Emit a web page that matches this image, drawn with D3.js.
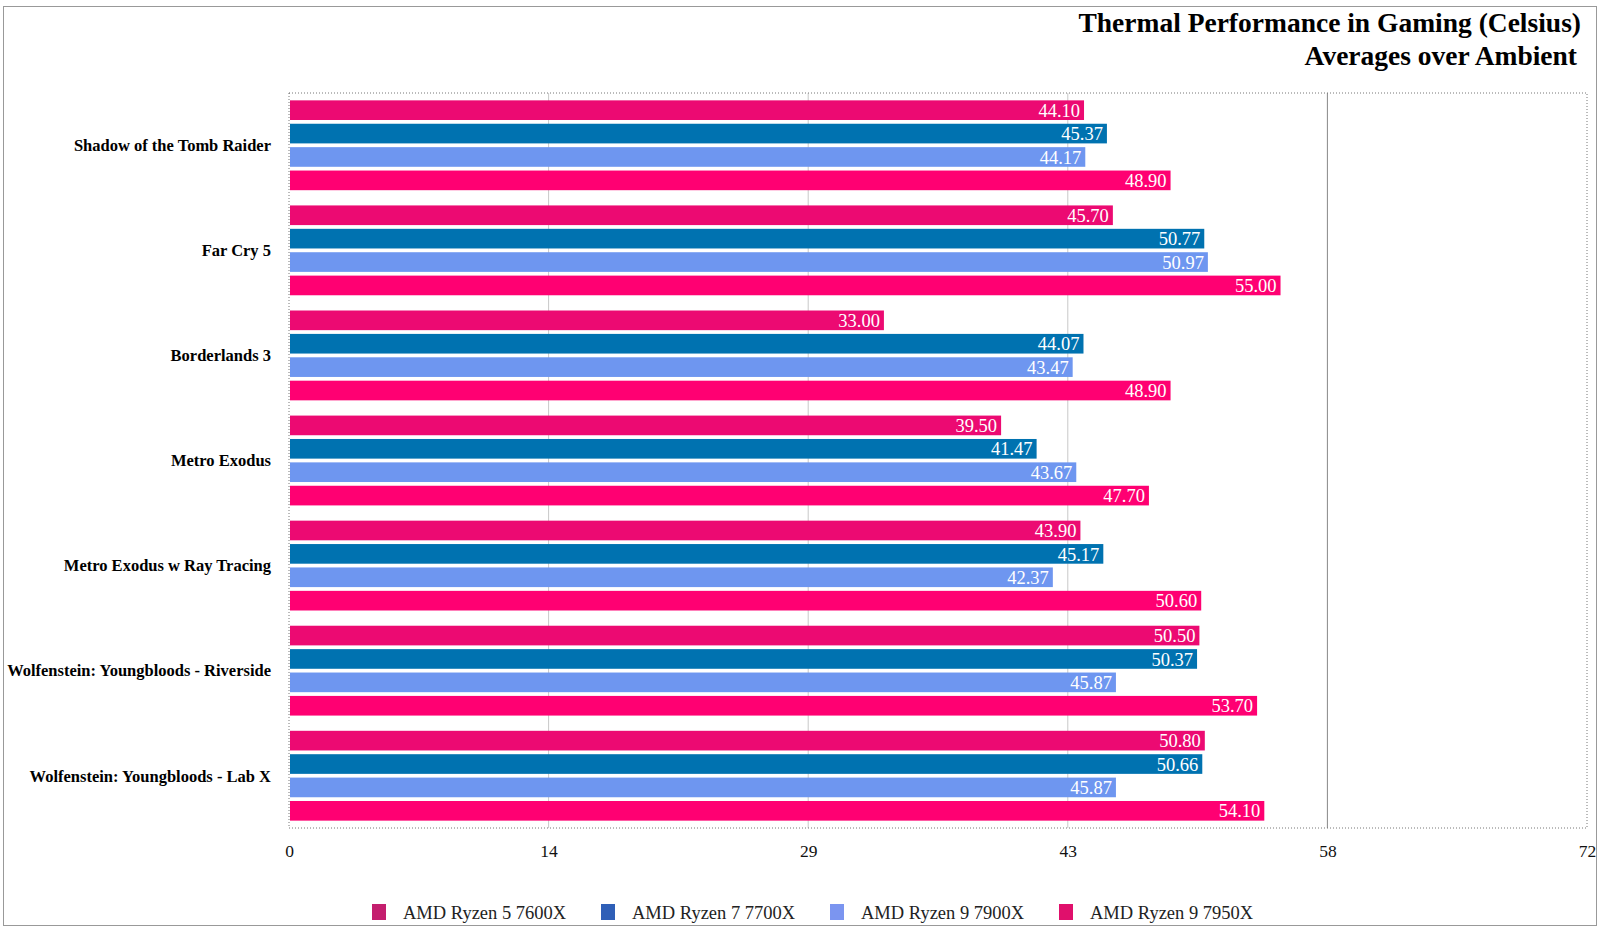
<!DOCTYPE html>
<html>
<head>
<meta charset="utf-8">
<script src="https://cdn.jsdelivr.net/npm/d3@7"></script>
<style>
  body { margin: 0; background: #fff; }
  svg { font-family: "Liberation Serif", "DejaVu Serif", serif; }
</style>
</head>
<body>
<div id="chart"></div>
<script>
// chart data
var games = ["Shadow of the Tomb Raider", "Far Cry 5", "Borderlands 3", "Metro Exodus",
    "Metro Exodus w Ray Tracing", "Wolfenstein: Youngbloods - Riverside", "Wolfenstein: Youngbloods - Lab X"];
var cpus = ["AMD Ryzen 5 7600X", "AMD Ryzen 7 7700X", "AMD Ryzen 9 7900X", "AMD Ryzen 9 7950X"];
var r5_7600x = [44.10, 45.70, 33.00, 39.50, 43.90, 50.50, 50.80];
var r7_7700x = [45.37, 50.77, 44.07, 41.47, 45.17, 50.37, 50.66];
var r9_7900x = [44.17, 50.97, 43.47, 43.67, 42.37, 45.87, 45.87];
var r9_7950x = [48.90, 55.00, 48.90, 47.70, 50.60, 53.70, 54.10];
var tickValues = [0, 14.4, 28.8, 43.2, 57.6, 72];

var seriesValues = [r5_7600x, r7_7700x, r9_7900x, r9_7950x];
var colors = ["#ec0a72", "#0072b0", "#6e96f0", "#ff0072"];
var legendColors = ["#c41e6e", "#2f5fb7", "#7b95f0", "#e0106c"];

var W = 1600, H = 929;
var margin = { top: 93, right: 13, bottom: 101, left: 289 },
    width = W - margin.left - margin.right,
    height = H - margin.top - margin.bottom;

var svg = d3.select("#chart").append("svg")
    .attr("width", W)
    .attr("height", H);

// outer frame
svg.append("rect")
    .attr("x", 3.5).attr("y", 6.5)
    .attr("width", 1593).attr("height", 919)
    .attr("fill", "none")
    .attr("stroke", "#999");

// title
svg.append("text")
    .attr("x", 1581).attr("y", 32)
    .attr("text-anchor", "end")
    .attr("font-size", 27.5).attr("font-weight", "bold")
    .text("Thermal Performance in Gaming (Celsius)");
svg.append("text")
    .attr("x", 1577).attr("y", 65)
    .attr("text-anchor", "end")
    .attr("font-size", 27.5).attr("font-weight", "bold")
    .text("Averages over Ambient");

var g = svg.append("g")
    .attr("transform", "translate(" + margin.left + "," + margin.top + ")");

// scales
var x = d3.scaleLinear().domain([0, 72]).range([0, width]);
var y0 = d3.scaleBand().domain(games).range([0, height]).paddingInner(0.145).paddingOuter(0.07);
var y1 = d3.scaleBand().domain(cpus).range([0, y0.bandwidth()]).paddingInner(0.16);

// grid lines
g.selectAll(".grid")
    .data(tickValues.slice(1, -1))
    .enter().append("line")
    .attr("x1", function (d) { return x(d); })
    .attr("x2", function (d) { return x(d); })
    .attr("y1", 0).attr("y2", height)
    .attr("stroke", function (d, i) { return i == 3 ? "#888" : "#c8c8c8"; })
    .attr("stroke-width", 1);

// dotted plot border
g.append("rect")
    .attr("x", 0).attr("y", 0)
    .attr("width", width).attr("height", height)
    .attr("fill", "none")
    .attr("stroke", "#777")
    .attr("stroke-dasharray", "1,2");

// bars
var groups = g.selectAll(".game")
    .data(games)
    .enter().append("g")
    .attr("class", "game")
    .attr("transform", function (d) { return "translate(0," + y0(d) + ")"; });

function rows(d, gi) {
    return cpus.map(function (c, si) { return { cpu: c, value: seriesValues[si][gi], si: si }; });
}

groups.selectAll("rect")
    .data(rows)
    .enter().append("rect")
    .attr("x", 1)
    .attr("y", function (d) { return y1(d.cpu); })
    .attr("width", function (d) { return x(d.value) - 1; })
    .attr("height", y1.bandwidth())
    .attr("fill", function (d) { return colors[d.si]; });

groups.selectAll(".val")
    .data(rows)
    .enter().append("text")
    .attr("class", "val")
    .attr("x", function (d) { return x(d.value) - 4; })
    .attr("y", function (d) { return y1(d.cpu) + y1.bandwidth() / 2; })
    .attr("dy", "0.36em")
    .attr("text-anchor", "end")
    .attr("font-size", 18.5)
    .attr("fill", "#fff")
    .text(function (d) { return d.value.toFixed(2); });

// category labels
g.selectAll(".cat")
    .data(games)
    .enter().append("text")
    .attr("x", -18)
    .attr("y", function (d) { return y0(d) + y0.bandwidth() / 2; })
    .attr("dy", "0.35em")
    .attr("text-anchor", "end")
    .attr("font-size", 16.5).attr("font-weight", "bold")
    .text(function (d) { return d; });

// x axis
var xAxis = g.append("g")
    .attr("transform", "translate(0," + height + ")")
    .call(d3.axisBottom(x).tickValues(tickValues).tickSize(0).tickPadding(17)
        .tickFormat(function (d) { return Math.round(d); }));
xAxis.select(".domain").remove();
xAxis.selectAll("text")
    .attr("font-family", "Liberation Serif, serif")
    .attr("font-size", 17.5)
    .attr("fill", "#111");

// legend
var legend = svg.append("g")
    .attr("transform", "translate(372,904)");
var items = legend.selectAll(".leg")
    .data(cpus)
    .enter().append("g")
    .attr("transform", function (d, i) { return "translate(" + (i * 229) + ",0)"; });
items.append("rect")
    .attr("width", 14).attr("height", 16)
    .attr("fill", function (d, i) { return legendColors[i]; });
items.append("text")
    .attr("x", 31).attr("y", 8)
    .attr("dy", "0.36em")
    .attr("font-size", 18.5)
    .attr("fill", "#222")
    .text(function (d) { return d; });
</script>
</body>
</html>
